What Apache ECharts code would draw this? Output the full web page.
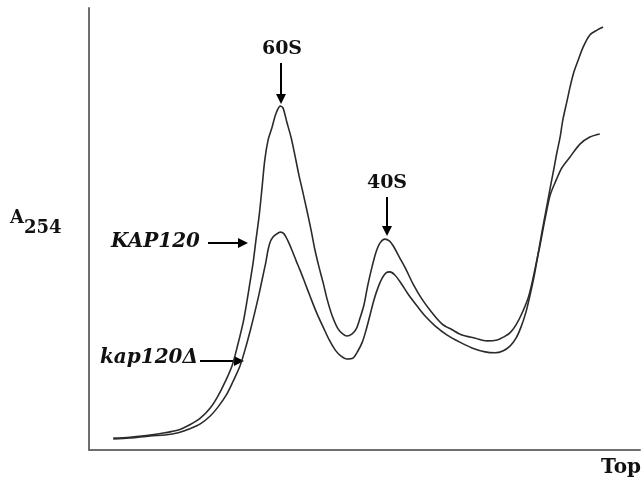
<!DOCTYPE html>
<html>
<head>
<meta charset="utf-8">
<script src="https://cdn.jsdelivr.net/npm/echarts@6/dist/echarts.min.js"></script>
<style>
html,body{margin:0;padding:0;background:#fff;}
#c{width:644px;height:482px;}
</style>
</head>
<body>
<div id="c"></div>
<script>
// Gradient position (0 = bottom of gradient, 100 = top) and A254 (arbitrary units)
var kapX = [4.4,7.4,11.1,13.8,16.2,18.3,20.2,22.0,23.4,24.7,26.0,27.0,28.0,28.7,29.2,29.8,30.3,30.9,31.4,31.9,32.5,33.2,33.9,34.7,35.2,35.9,36.7,37.4,38.1,38.8,39.6,40.3,41.0,41.7,42.5,43.2,44.1,45.2,46.1,46.8,47.7,48.5,49.2,49.9,50.6,51.4,52.1,52.8,53.7,54.5,55.2,56.3,57.4,58.8,60.4,62.3,64.1,65.9,67.7,70.1,72.2,74.1,75.3,76.4,77.5,78.6,79.7,80.4,81.1,81.9,82.8,83.7,84.8,85.8,87.3,89.1,90.9,92.7];
var kapY = [2.7,2.9,3.4,3.9,4.5,5.7,7.2,9.5,12.2,15.4,19.2,23.8,29.0,33.9,37.8,42.5,47.5,53.2,59.3,65.6,70.1,72.9,76.0,77.8,77.4,74.2,70.6,66.5,62.2,58.4,53.9,49.8,45.3,41.6,37.8,34.2,30.5,27.4,26.2,25.8,26.2,27.4,29.9,32.8,37.3,41.6,44.8,46.8,47.7,47.3,46.2,43.7,41.2,37.6,34.2,31.0,28.5,27.2,26.0,25.3,24.7,24.9,25.6,26.5,28.3,31.0,34.4,37.8,41.9,46.6,52.5,57.7,61.1,63.8,66.3,69.2,70.8,71.5];
var delX = [4.4,7.4,11.1,13.8,16.2,18.3,20.2,22.0,23.4,24.9,26.1,27.4,28.3,29.2,30.1,30.9,31.6,32.1,32.5,32.9,33.4,34.1,34.7,35.4,36.1,36.8,37.6,38.3,39.2,40.3,41.4,42.5,43.6,44.7,45.7,46.8,47.9,48.8,49.6,50.3,51.0,51.7,52.5,53.2,53.9,54.6,55.5,56.6,57.9,59.4,61.0,62.8,65.0,67.3,69.5,71.9,73.7,75.1,76.4,77.5,78.4,79.3,80.0,80.8,81.5,82.2,82.9,83.7,84.4,84.9,85.5,86.0,86.8,87.3,88.0,88.6,89.7,90.9,92.2,93.3];
var delY = [2.5,2.7,3.2,3.4,3.9,4.8,5.9,7.7,9.7,12.4,15.4,19.0,22.6,26.7,31.2,35.5,39.6,42.5,45.3,47.1,48.2,48.9,49.3,48.9,47.3,45.3,42.8,40.7,37.8,34.2,30.8,27.8,24.9,22.6,21.3,20.6,20.8,22.4,24.4,27.2,30.5,33.9,36.9,38.9,40.1,40.3,39.6,37.8,35.3,32.8,30.3,28.1,26.0,24.4,23.1,22.2,22.0,22.4,23.5,25.3,27.8,31.2,34.8,39.4,44.3,49.3,53.9,59.3,63.8,67.2,70.8,74.7,79.2,82.1,85.5,87.6,91.2,93.9,95.0,95.7];

var seriesNames = ['KAP120', 'kap120\u0394'];
var peakLabels = ['60S', '40S'];
var axisTexts = {y: 'A', ySub: '254', x: 'Top'};

function pairs(xs, ys){ return xs.map(function(x,i){ return [x, ys[i]]; }); }

var chart = echarts.init(document.getElementById('c'), null, {renderer:'canvas'});
var lineCol = '#2b2b2b';
var axisCol = '#6e6e6e';
var serif = '"DejaVu Serif", "Liberation Serif", serif';

function arrow(x1, y1, x2, y2){
  var dx = x2-x1, dy = y2-y1, L = Math.sqrt(dx*dx+dy*dy);
  var ux = dx/L, uy = dy/L, hl = 10, hw = 5;
  var bx = x2-ux*hl, by = y2-uy*hl;
  return [
    {type:'line', shape:{x1:x1,y1:y1,x2:bx+ux*1,y2:by+uy*1}, style:{stroke:'#000', lineWidth:2}},
    {type:'polygon', shape:{points:[[x2,y2],[bx-uy*hw,by+ux*hw],[bx+uy*hw,by-ux*hw]]}, style:{fill:'#000'}}
  ];
}

var graphics = [
  {type:'text', left:10, top:209, style:{text:'{a|'+axisTexts.y+'}{s|'+axisTexts.ySub+'}', rich:{
     a:{font:'bold 18px '+serif, fill:'#111', verticalAlign:'top', padding:[0,0,10,0]},
     s:{font:'bold 18px '+serif, fill:'#111', verticalAlign:'bottom', padding:[10,0,0,0]}}}},
  {type:'text', x:641, y:478, style:{text:axisTexts.x, font:'bold 20px '+serif, fill:'#111', align:'right', verticalAlign:'bottom'}},
  {type:'text', x:282, y:59, style:{text:peakLabels[0], font:'bold 19px '+serif, fill:'#111', align:'center', verticalAlign:'bottom'}},
  {type:'text', x:387, y:193, style:{text:peakLabels[1], font:'bold 19px '+serif, fill:'#111', align:'center', verticalAlign:'bottom'}},
  {type:'text', x:200, y:252, style:{text:seriesNames[0], font:'italic bold 20px '+serif, fill:'#111', align:'right', verticalAlign:'bottom'}},
  {type:'text', x:198, y:368, style:{text:seriesNames[1], font:'italic bold 20px '+serif, fill:'#111', align:'right', verticalAlign:'bottom'}}
];
graphics = graphics.concat(arrow(281,63,281,104), arrow(387,197,387,236), arrow(208,243,248,243), arrow(200,361,244,361));

chart.setOption({
  animation:false,
  backgroundColor:'#fff',
  grid:{left:89, right:4, top:8, bottom:32},
  xAxis:{type:'value', min:0, max:100, axisLine:{show:true, onZero:false, lineStyle:{color:axisCol, width:2}},
         axisTick:{show:false}, axisLabel:{show:false}, splitLine:{show:false}},
  yAxis:{type:'value', min:0, max:100, axisLine:{show:true, onZero:false, lineStyle:{color:axisCol, width:2}},
         axisTick:{show:false}, axisLabel:{show:false}, splitLine:{show:false}},
  series:[
    {name:seriesNames[0], type:'line', data:pairs(kapX, kapY), showSymbol:false, smooth:0.3,
     lineStyle:{color:lineCol, width:1.6}},
    {name:seriesNames[1], type:'line', data:pairs(delX, delY), showSymbol:false, smooth:0.3,
     lineStyle:{color:lineCol, width:1.6}}
  ],
  graphic:graphics
});
</script>
</body>
</html>
